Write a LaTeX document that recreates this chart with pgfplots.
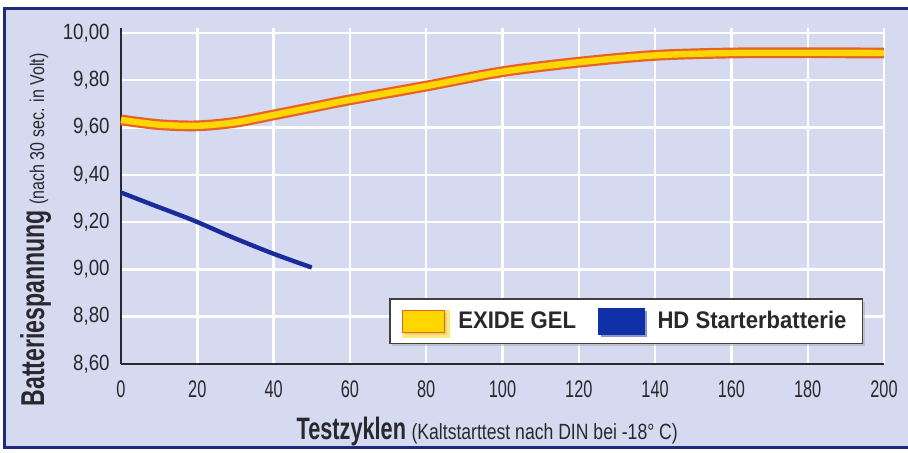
\documentclass[border=0pt]{standalone}
\usepackage{fontspec}
\usepackage{pgfplots}
\pgfplotsset{compat=1.18}
\usetikzlibrary{shadows}
\setmainfont{Liberation Sans}
\newfontfamily\fA{Liberation Sans}[FakeStretch=0.70]
\newfontfamily\fB{Liberation Sans}[FakeStretch=0.80]
\newfontfamily\fY{Liberation Sans}[FakeStretch=0.85]
\newfontfamily\fX{Liberation Sans}[FakeStretch=0.68]
\newfontfamily\fL{Liberation Sans}[FakeStretch=0.92]
\definecolor{bgl}{RGB}{214,218,240}
\definecolor{frame}{RGB}{30,42,128}
\definecolor{axisc}{RGB}{40,40,40}
\definecolor{txt}{RGB}{40,40,45}
\definecolor{exy}{RGB}{255,214,0}
\definecolor{exo}{RGB}{232,96,42}
\definecolor{hdb}{RGB}{26,44,156}
\definecolor{hdl}{RGB}{16,48,168}

\pgfplotstableread{
x y
0 9.632
10 9.612
20 9.607
30 9.622
40 9.653
50 9.685
60 9.717
80 9.775
100 9.836
120 9.876
140 9.905
160 9.915
180 9.916
200 9.915
}\exide

\pgfplotstableread{
x y
0 9.325
8 9.275
19 9.207
29 9.137
40 9.066
50 9.008
}\hd

\begin{document}
\begin{tikzpicture}
\useasboundingbox (-60.5pt,-44.5pt) rectangle (393.5pt,182pt);
\fill[white] (-60.5pt,-44.5pt) rectangle (393.5pt,182pt);
\fill[bgl] (-58pt,-42pt) rectangle (393.5pt,177.5pt);
\draw[frame, line width=1.5pt] (393.5pt,177.5pt) -- (-58pt,177.5pt) -- (-58pt,-42pt) -- (393.5pt,-42pt);
\begin{axis}[
  at={(0,0)}, anchor=south west,
  x=1.9075pt, y=118.25pt,
  xmin=0, xmax=200, ymin=8.6, ymax=10.02,
  clip=false,
  axis x line=bottom, axis y line=left,
  axis line style={draw=axisc, line width=1pt, -},
  major tick length=0pt,
  grid=major,
  major grid style={white, line width=1.2pt},
  xtick={0,20,40,60,80,100,120,140,160,180,200},
  xticklabels={0,20,40,60,80,100,120,140,160,180,200},
  ytick={8.6,8.8,9.0,9.2,9.4,9.6,9.8,10.0},
  yticklabels={{8,60},{8,80},{9,00},{9,20},{9,40},{9,60},{9,80},{10,00}},
  xticklabel style={font=\fX\fontsize{12}{14}\selectfont, text=txt, inner sep=0pt, anchor=north, yshift=-8pt},
  yticklabel style={font=\fY\fontsize{11}{13}\selectfont, text=txt, inner sep=0pt, anchor=east, xshift=-5.5pt},
  xlabel={{\fA\bfseries\fontsize{15.5}{18}\selectfont Testzyklen} {\fB\fontsize{11}{13}\selectfont (Kaltstarttest nach DIN bei -18° C)}},
  xlabel style={at={(rel axis cs:0.48,-0.2263)}, anchor=base, inner sep=0pt, text=txt},
  ylabel={{\fA\bfseries\fontsize{16.5}{19}\selectfont Batteriespannung} {\fB\fontsize{10}{12}\selectfont (nach 30 sec. in Volt)}},
  ylabel style={at={(rel axis cs:-0.1009,0.399)}, anchor=base, inner sep=0pt, rotate=0, text=txt},
  legend columns=2,
  legend style={at={(axis cs:132.4,8.78)}, anchor=center,
    fill=white, draw=black!75, line width=0.8pt,
    drop shadow={shadow xshift=1.2pt, shadow yshift=-1.2pt, fill=black!35},
    inner xsep=6pt, inner ysep=4pt,
    font=\fL\bfseries\fontsize{12}{14}\selectfont, text=txt,
    /tikz/every odd column/.append style={column sep=4.5pt},
    /tikz/every even column/.append style={column sep=9pt}},
]
\addplot[exo, line width=5.4pt, line cap=butt, smooth, forget plot] table {\exide};
\addplot[exy, line width=3.2pt, line cap=butt, smooth,
  legend image code/.code={\draw[fill=exy, draw=exo, line width=0.8pt] (0pt,-5.5pt) rectangle (21pt,5.5pt);}] table {\exide};
\addlegendentry{EXIDE GEL}
\addplot[hdb, line width=2.2pt, smooth,
  legend image code/.code={\fill[hdl] (0pt,-5.5pt) rectangle (21pt,5.5pt);}] table {\hd};
\addlegendentry{HD Starterbatterie}
\end{axis}
\end{tikzpicture}
\end{document}
